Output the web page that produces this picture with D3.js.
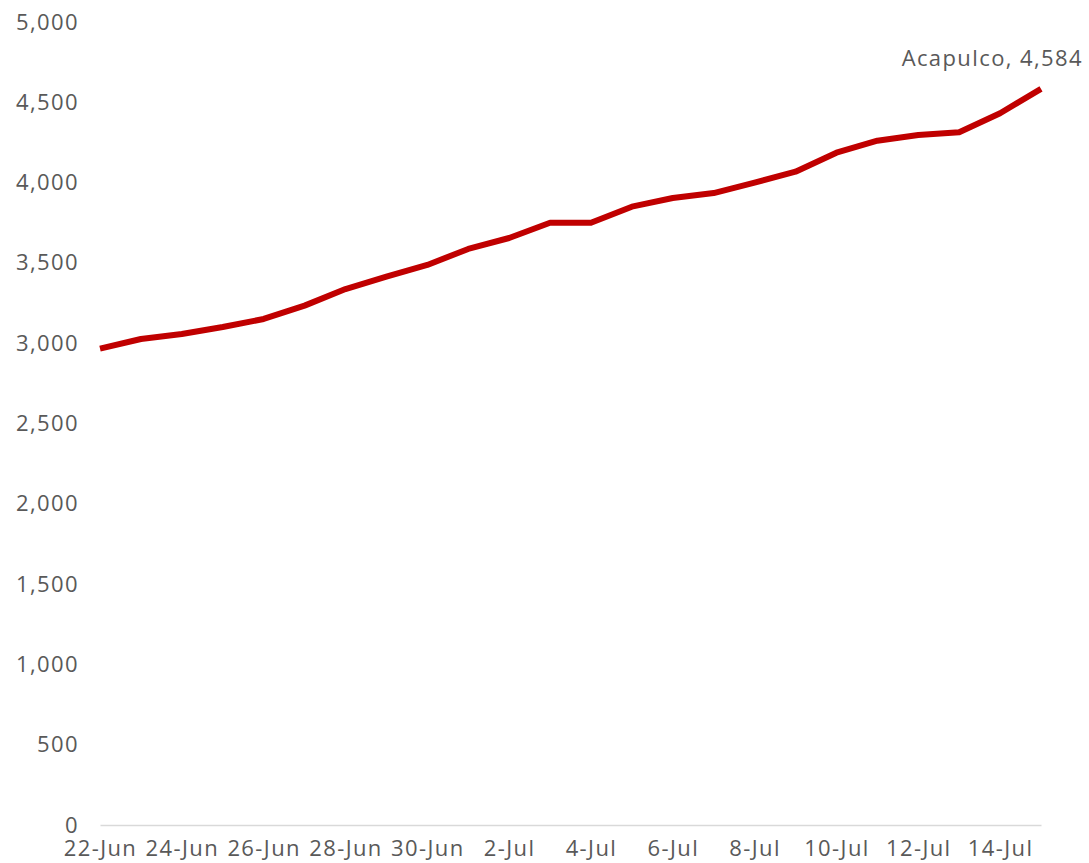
<!DOCTYPE html>
<html>
<head>
<meta charset="utf-8">
<script src="https://cdn.jsdelivr.net/npm/d3@7"></script>
<style>
  body { margin: 0; background: #fff; }
  .axis text, .end-label { font-family: "Open Sans", sans-serif; font-size: 22px; fill: #595959; letter-spacing: 1.4px; }
</style>
</head>
<body>
<div id="chart"></div>
<script>
var dates = ["2020-06-22","2020-06-23","2020-06-24","2020-06-25","2020-06-26","2020-06-27",
  "2020-06-28","2020-06-29","2020-06-30","2020-07-01","2020-07-02","2020-07-03","2020-07-04",
  "2020-07-05","2020-07-06","2020-07-07","2020-07-08","2020-07-09","2020-07-10","2020-07-11",
  "2020-07-12","2020-07-13","2020-07-14","2020-07-15"];
var acapulco = [2966, 3026, 3057, 3101, 3151, 3234, 3337, 3414, 3487, 3587, 3655, 3750, 3750,
  3850, 3904, 3935, 4000, 4068, 4186, 4261, 4296, 4313, 4432, 4584];
var yTicks = [0, 500, 1000, 1500, 2000, 2500, 3000, 3500, 4000, 4500, 5000];
var seriesName = "Acapulco";

var width = 1089,
    height = 863,
    margin = {top: 22, right: 48, bottom: 38, left: 100};

var parse = d3.timeParse("%Y-%m-%d");
var data = dates.map((d, i) => ({date: parse(d), value: acapulco[i]}));

var svg = d3.select("#chart")
  .append("svg")
  .attr("width", width)
  .attr("height", height);

var g = svg.append("g")
  .attr("transform", `translate(${margin.left},${margin.top})`);

var innerW = width - margin.left - margin.right,
    innerH = height - margin.top - margin.bottom;

var x = d3.scaleTime()
  .domain(d3.extent(data, d => d.date))
  .range([0, innerW]);
var y = d3.scaleLinear().domain([0, 5000]).range([innerH, 0]);

// Y axis (labels only)
var yAxis = d3.axisLeft(y).tickValues(yTicks).tickSize(0).tickPadding(21)
  .tickFormat(d3.format(","));
g.append("g")
  .attr("class", "y axis")
  .call(yAxis)
  .call(s => s.select(".domain").remove());

// X axis
var xAxis = d3.axisBottom(x)
  .tickValues(data.filter((d, i) => i % 2 === 0).map(d => d.date))
  .tickSize(0).tickPadding(15)
  .tickFormat(d3.timeFormat("%-d-%b"));
g.append("g")
  .attr("class", "x axis")
  .attr("transform", `translate(0,${innerH})`)
  .call(xAxis)
  .call(s => s.select(".domain").attr("stroke", "#d9d9d9").attr("stroke-width", 1.5));

// line
var line = d3.line().x(d => x(d.date)).y(d => y(d.value));
g.append("path")
  .datum(data)
  .attr("fill", "none")
  .attr("stroke", "#c00000")
  .attr("stroke-width", 6)
  .attr("stroke-linejoin", "round")
  .attr("d", line);

// end label
var last = data[data.length - 1];
g.append("text")
  .attr("class", "end-label")
  .attr("x", x(last.date) + 42)
  .attr("y", y(last.value) - 23)
  .attr("text-anchor", "end")
  .text(seriesName + ", " + d3.format(",")(last.value));
</script>
</body>
</html>
